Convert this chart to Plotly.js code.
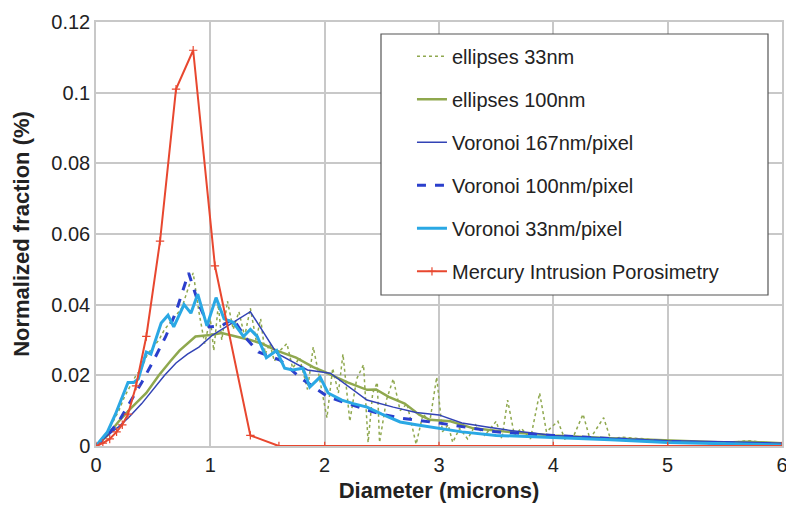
<!DOCTYPE html>
<html>
<head>
<meta charset="utf-8">
<script src="https://cdn.plot.ly/plotly-3.0.1.min.js"></script>
<style>html,body{margin:0;padding:0;background:#fff;}#chart{width:786px;height:508px;}</style>
</head>
<body>
<div id="chart"></div>
<script>
// ellipses 33nm (dotted, noisy)
const ell33X = [0,0.05,0.1,0.15,0.2,0.25,0.3,0.35,0.4,0.45,0.5,0.55,0.6,0.65,0.7,0.75,0.8,0.85,0.9,0.95,1.0,1.03,1.07,1.1,1.15,1.2,1.25,1.3,1.35,1.4,1.44,1.48,1.52,1.56,1.61,1.67,1.72,1.78,1.85,1.9,1.95,2.02,2.07,2.12,2.16,2.22,2.28,2.34,2.38,2.42,2.46,2.48,2.54,2.6,2.66,2.72,2.8,2.86,2.92,2.98,3.03,3.08,3.12,3.18,3.25,3.32,3.4,3.5,3.55,3.6,3.66,3.72,3.8,3.88,3.94,4.04,4.1,4.18,4.26,4.32,4.44,4.5,4.6,4.8,5.0,5.2,5.5,5.7,6.0];
const ell33Y = [0,0.002,0.004,0.007,0.010,0.014,0.017,0.020,0.022,0.026,0.028,0.030,0.033,0.035,0.037,0.039,0.044,0.049,0.038,0.029,0.036,0.027,0.040,0.030,0.041,0.033,0.038,0.031,0.039,0.030,0.036,0.026,0.029,0.024,0.027,0.029,0.022,0.025,0.016,0.028,0.020,0.008,0.022,0.015,0.026,0.007,0.019,0.023,0.001,0.015,0.018,0.001,0.013,0.019,0.010,0.012,0.0005,0.009,0.007,0.0195,0.004,0.006,0.001,0.005,0.002,0.006,0.003,0.007,0.002,0.013,0.003,0.005,0.002,0.015,0.004,0.007,0.002,0.003,0.009,0.002,0.008,0.002,0.0025,0.002,0.0012,0.001,0.0008,0.0015,0.0005];

// ellipses 100nm
const ell100X = [0,0.1,0.2,0.3,0.44,0.55,0.65,0.73,0.87,1.0,1.1,1.23,1.35,1.45,1.58,1.75,1.9,2.0,2.2,2.37,2.45,2.56,2.7,2.83,2.92,3.1,3.3,3.6,4.0,4.5,5.0,5.5,5.7,6.0];
const ell100Y = [0,0.003,0.007,0.0105,0.015,0.020,0.024,0.027,0.031,0.0314,0.032,0.031,0.030,0.029,0.027,0.025,0.0223,0.021,0.018,0.0159,0.016,0.0139,0.012,0.0088,0.0074,0.007,0.005,0.004,0.003,0.0022,0.0015,0.001,0.0012,0.0008];

// Voronoi 167nm/pixel
const v167X = [0,0.1,0.2,0.29,0.4,0.5,0.6,0.7,0.8,0.9,1.02,1.15,1.35,1.58,1.85,2.05,2.2,2.37,2.6,2.8,3.0,3.2,3.42,3.6,3.82,4.0,4.5,5.0,5.5,6.0];
const v167Y = [0,0.003,0.0055,0.0082,0.012,0.016,0.020,0.0235,0.026,0.028,0.0314,0.034,0.038,0.0263,0.0215,0.0206,0.017,0.013,0.011,0.0095,0.0088,0.0065,0.0054,0.0045,0.0037,0.003,0.0022,0.0015,0.0012,0.0008];

// Voronoi 100nm/pixel
const v100X = [0,0.1,0.2,0.29,0.4,0.5,0.61,0.7,0.81,0.9,0.99,1.1,1.2,1.3,1.42,1.61,1.8,2.03,2.2,2.37,2.5,2.66,3.0,3.5,4.0,4.5,5.0,6.0];
const v100Y = [0,0.003,0.007,0.012,0.018,0.024,0.031,0.038,0.049,0.040,0.0337,0.034,0.036,0.031,0.0266,0.0243,0.019,0.0139,0.012,0.0102,0.009,0.0079,0.0065,0.004,0.003,0.002,0.0012,0.0005];

// Voronoi 33nm/pixel
const v33X = [0,0.05,0.1,0.17,0.22,0.28,0.33,0.37,0.44,0.48,0.57,0.63,0.68,0.77,0.83,0.89,0.97,1.05,1.12,1.2,1.29,1.35,1.41,1.49,1.58,1.65,1.72,1.81,1.87,1.96,2.03,2.15,2.25,2.37,2.5,2.66,2.8,3.0,3.2,3.5,4.0,4.5,5.0,5.5,6.0];
const v33Y = [0,0.002,0.004,0.009,0.013,0.018,0.018,0.019,0.0266,0.026,0.0348,0.037,0.0337,0.040,0.0376,0.043,0.034,0.042,0.036,0.035,0.031,0.033,0.031,0.025,0.027,0.022,0.0215,0.022,0.0167,0.0195,0.015,0.013,0.012,0.011,0.009,0.0068,0.006,0.005,0.004,0.003,0.0025,0.0018,0.001,0.0006,0.0003];

// Mercury Intrusion Porosimetry
const mipX = [0,0.06,0.12,0.18,0.23,0.28,0.35,0.44,0.56,0.7,0.85,1.04,1.35,1.6,2,3,4,5,6];
const mipY = [0,0.0008,0.002,0.004,0.006,0.009,0.017,0.031,0.058,0.101,0.112,0.051,0.003,0,0,0,0,0,0];

const traces = [
  {x: ell33X, y: ell33Y, name: 'ellipses 33nm', mode: 'lines', legendgroup: 'a',
   line: {color: '#8fa84e', width: 1.5, dash: 'dot'}},
  {x: ell100X, y: ell100Y, name: 'ellipses 100nm', mode: 'lines', legendgroup: 'b',
   line: {color: '#8fa84e', width: 2.5}},
  {x: v167X, y: v167Y, name: 'Voronoi 167nm/pixel', mode: 'lines', legendgroup: 'c',
   line: {color: '#3243b5', width: 1.5}},
  {x: v100X, y: v100Y, name: 'Voronoi 100nm/pixel', mode: 'lines', legendgroup: 'd',
   line: {color: '#2b3fcc', width: 3, dash: 'dash'}},
  {x: v33X, y: v33Y, name: 'Voronoi 33nm/pixel', mode: 'lines', legendgroup: 'e',
   line: {color: '#2aa8e4', width: 3}},
  {x: mipX, y: mipY, name: 'Mercury Intrusion Porosimetry', mode: 'lines+markers', legendgroup: 'f',
   line: {color: '#e8472f', width: 2},
   marker: {symbol: 'cross-thin', size: 6, color: '#e8472f', line: {color: '#e8472f', width: 1.2}}}
];

const layout = {
  width: 786, height: 508,
  margin: {l: 96, r: 4, t: 22, b: 62},
  paper_bgcolor: '#ffffff', plot_bgcolor: '#ffffff',
  font: {family: 'Liberation Sans, Arial, sans-serif', color: '#222'},
  showlegend: true,
  legend: {
    x: 0.4606, y: 0.965, xanchor: 'left', yanchor: 'top',
    bgcolor: 'rgba(0,0,0,0)', borderwidth: 0,
    font: {size: 20, color: '#222'}, traceorder: 'grouped', tracegroupgap: 14
  },
  shapes: [
    {type: 'rect', xref: 'paper', yref: 'paper', layer: 'above',
     x0: (381 - 96) / 686, x1: (768 - 96) / 686,
     y0: (446 - 295) / 424, y1: (446 - 34) / 424,
     fillcolor: '#ffffff', line: {color: '#555555', width: 1.2}}
  ],
  xaxis: {
    range: [0, 6], dtick: 1, tick0: 0,
    showgrid: true, gridcolor: '#c8c8c8', gridwidth: 1.5,
    showline: true, linecolor: '#c8c8c8', linewidth: 1.5, mirror: true,
    zeroline: false, ticks: '', tickfont: {size: 20, color: '#222'},
    ticklabeloverflow: 'allow',
    title: {text: '<b>Diameter (microns)</b>', font: {size: 22, color: '#222'}, standoff: 8}
  },
  yaxis: {
    range: [0, 0.12], dtick: 0.02, tick0: 0,
    showgrid: true, gridcolor: '#c8c8c8', gridwidth: 1.5,
    showline: true, linecolor: '#c8c8c8', linewidth: 1.5, mirror: true,
    zeroline: false, ticks: '', tickfont: {size: 20, color: '#222'},
    tickformat: '~g', ticklabeloverflow: 'allow',
    title: {text: '<b>Normalized fraction (%)</b>', font: {size: 22, color: '#222'}, standoff: 16}
  }
};

Plotly.newPlot('chart', traces, layout, {displayModeBar: false, responsive: false});
</script>
</body>
</html>
